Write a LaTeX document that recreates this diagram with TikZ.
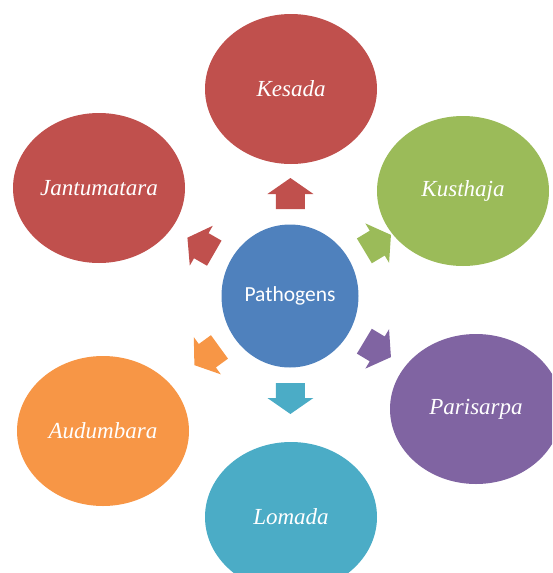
\documentclass[tikz,border=0pt]{standalone}
\usepackage{fontspec}
\setmainfont{Liberation Serif}
\newfontfamily\hubfont{Carlito}
\usepackage{tikz}
\usetikzlibrary{positioning, shapes.geometric, calc}
\usepackage{xcolor}
\definecolor{kesred}{HTML}{C0504D}
\definecolor{kusgreen}{HTML}{9BBB59}
\definecolor{parpurple}{HTML}{8064A2}
\definecolor{lomteal}{HTML}{4BACC6}
\definecolor{audorange}{HTML}{F79646}
\definecolor{hubblue}{HTML}{4F81BD}

\begin{document}
\begin{tikzpicture}[
  x=1pt, y=1pt,
  petal/.style={ellipse, inner sep=0pt, minimum width=172pt, minimum height=150pt,
                text=white, font=\fontsize{23}{27}\selectfont\itshape},
  hub/.style={ellipse, inner sep=0pt, fill=hubblue, minimum width=137pt,
              minimum height=143pt, text=white, font=\hubfont\fontsize{21.5}{25}\selectfont},
  barrow/.pic={\path[pic actions] (0,-14.5) -- (15,-14.5) -- (15,-23) -- (31,0)
                -- (15,23) -- (15,14.5) -- (0,14.5) -- cycle;}
]
\clip (0,0) rectangle (552,-573);
\node[hub] (path) at (290,-296) {Pathogens};
\node[petal, fill=kesred] (kes) at (291,-89) {Kesada};
\node[petal, fill=kusgreen] (kus) at (463,-191) {Kusthaja};
\node[petal, fill=parpurple] (par) at (476,-409) {Parisarpa};
\node[petal, fill=lomteal] (lom) at (291,-517) {Lomada};
\node[petal, fill=audorange] (aud) at (103,-431) {Audumbara};
\node[petal, fill=kesred] (jan) at (99,-188) {Jantumatara};

\pic[fill=kesred, rotate=90] at ($(path.center)!87pt!(kes.center)$) {barrow};
\pic[fill=kusgreen, rotate=31] at ($(path.center)!87pt!(kus.center)$) {barrow};
\pic[fill=parpurple, rotate=-31] at ($(path.center)!87pt!(par.center)$) {barrow};
\pic[fill=lomteal, rotate=-90] at ($(path.center)!87pt!(lom.center)$) {barrow};
\pic[fill=audorange, rotate=-144] at ($(path.center)!87pt!(aud.center)$) {barrow};
\pic[fill=kesred, rotate=150] at ($(path.center)!87pt!(jan.center)$) {barrow};
\end{tikzpicture}
\end{document}
